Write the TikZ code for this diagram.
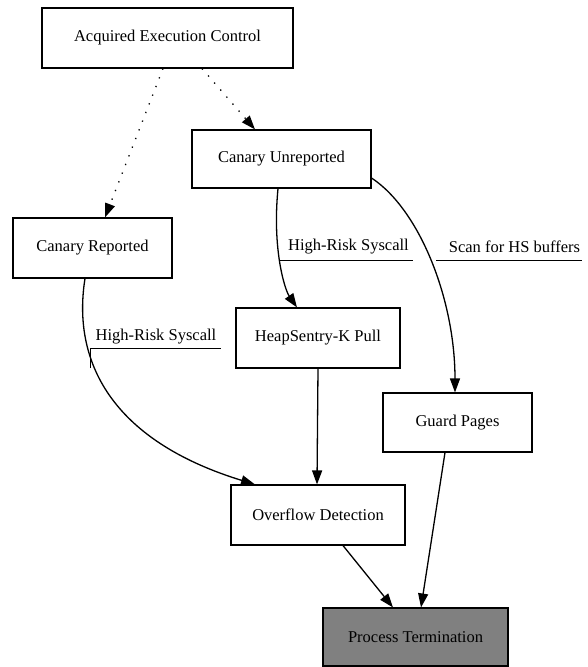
\documentclass[tikz,border=0pt]{standalone}
\usepackage{fontspec}
\setmainfont{Liberation Serif}
\usetikzlibrary{arrows.meta}
\begin{document}
\begin{tikzpicture}[x=1pt,y=-1pt,
  box/.style={draw,line width=1.1pt,rectangle,inner sep=0pt,font=\fontsize{16.5}{19}\selectfont},
  lbl/.style={inner sep=0pt,font=\fontsize{16.5}{19}\selectfont},
  edge/.style={line width=1.3pt,-{Triangle[length=14pt,width=10pt]}},
  dotedge/.style={edge,dash pattern=on 1.3pt off 8pt},
  uline/.style={line width=1pt}]
\useasboundingbox (0,0) rectangle (587,667);
\node[box,minimum width=251,minimum height=60] (aec) at (167.5,38) {Acquired Execution Control};
\node[box,minimum width=179,minimum height=58] (cu) at (281.5,159) {Canary Unreported};
\node[box,minimum width=159,minimum height=60] (cr) at (92.5,248) {Canary Reported};
\node[box,minimum width=164,minimum height=60] (hs) at (318,338) {HeapSentry-K Pull};
\node[box,minimum width=149,minimum height=59] (gp) at (457.5,422.5) {Guard Pages};
\node[box,minimum width=174,minimum height=60] (od) at (318,515) {Overflow Detection};
\node[box,fill={rgb,255:red,128;green,128;blue,128},minimum width=185,minimum height=58] (pt) at (415.5,637) {Process Termination};

\node[lbl] (l1) at (348.5,247) {High-Risk Syscall};
\node[lbl] (l2) at (514.5,247) {Scan for HS buffers};
\node[lbl] (l3) at (156,337) {High-Risk Syscall};

\draw[dotedge] ([xshift=-4.5]aec.south) -- ([xshift=12.5]cr.north);
\draw[dotedge] ([xshift=34.5]aec.south) -- ([xshift=-26.5]cu.north);
\draw[edge] ([xshift=-3.5]cu.south) .. controls (272,250) and (285,290) .. ([xshift=-21]hs.north);
\draw[edge] ([yshift=-19]cu.east) .. controls (420,210) and (455,300) .. ([xshift=-2.5]gp.north);
\draw[edge] ([xshift=-7.5]cr.south) .. controls (72,360) and (110,440) .. ([xshift=-63]od.north);
\draw[edge] (hs.south) -- ([xshift=-1]od.north);
\draw[edge] ([xshift=25]od.south) -- ([xshift=-22.5]pt.north);
\draw[edge] ([xshift=-12.5]gp.south) -- ([xshift=5.5]pt.north);

\coordinate (u1a) at (280,260); \coordinate (u1b) at (413,260);
\coordinate (u2a) at (436,260); \coordinate (u2b) at (582,260);
\coordinate (u3t) at (90,368); \coordinate (u3a) at (90,348); \coordinate (u3b) at (221,348);
\draw[uline] (u1a) -- (u1b);
\draw[uline] (u2a) -- (u2b);
\draw[uline] (u3t) -- (u3a) -- (u3b);
\end{tikzpicture}
\end{document}
